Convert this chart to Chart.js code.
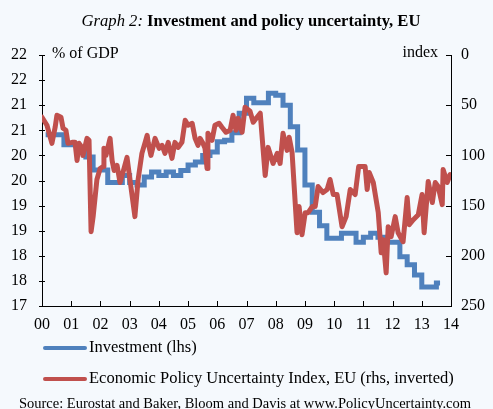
<!DOCTYPE html>
<html>
<head>
<meta charset="utf-8">
<script src="https://cdn.jsdelivr.net/npm/chart.js@4.4.0/dist/chart.umd.min.js"></script>
<style>
  html, body { margin: 0; padding: 0; background: #f5f9fd; }
  #wrap { position: relative; width: 493px; height: 409px; }
</style>
</head>
<body>
<div id="wrap"><canvas id="chart" width="493" height="409"></canvas></div>
<script>
// Investment, % of GDP (lhs), quarterly from 2000Q1
const investStartYear = 2000;
const investment = [
  20.41, 20.41, 20.41, 20.21,
  20.21, 20.10, 19.97, 19.71,
  19.71, 19.46, 19.46, 19.60,
  19.46, 19.41, 19.57, 19.67,
  19.60, 19.67, 19.60, 19.70,
  19.81, 19.87, 20.00, 20.07,
  20.27, 20.30, 20.45, 20.84,
  21.14, 21.05, 21.05, 21.24,
  21.20, 21.00, 20.57, 20.11,
  19.41, 18.87, 18.60, 18.35,
  18.35, 18.45, 18.45, 18.27,
  18.37, 18.45, 18.37, 18.27,
  18.27, 17.98, 17.82, 17.62,
  17.38, 17.38, 17.46
];

// Economic Policy Uncertainty Index, EU (rhs, inverted)
const epuDates = [
  2000.00, 2000.17, 2000.34, 2000.45, 2000.51, 2000.65, 2000.72, 2000.82, 2000.89,
  2001.03, 2001.13, 2001.20, 2001.27, 2001.37, 2001.40, 2001.54, 2001.61, 2001.68, 2001.75, 2001.88,
  2001.99, 2002.09, 2002.12, 2002.19, 2002.33, 2002.40, 2002.47, 2002.57, 2002.67, 2002.77, 2002.91,
  2003.01, 2003.18, 2003.29, 2003.42, 2003.53, 2003.60, 2003.64, 2003.73, 2003.87,
  2004.01, 2004.11, 2004.21, 2004.32, 2004.45, 2004.55, 2004.66, 2004.79, 2004.90,
  2005.00, 2005.14, 2005.24, 2005.34, 2005.41, 2005.51, 2005.58, 2005.65, 2005.68, 2005.82, 2005.92,
  2006.06, 2006.16, 2006.30, 2006.44, 2006.54, 2006.64, 2006.71, 2006.85, 2006.95,
  2007.12, 2007.23, 2007.36, 2007.47, 2007.64, 2007.74, 2007.91,
  2008.05, 2008.15, 2008.25, 2008.39, 2008.46, 2008.56, 2008.73, 2008.80, 2008.90,
  2009.01, 2009.11, 2009.25, 2009.35, 2009.45, 2009.62, 2009.76, 2009.86, 2009.97,
  2010.10, 2010.27, 2010.41, 2010.55, 2010.72, 2010.84, 2010.96,
  2011.06, 2011.13, 2011.20, 2011.34, 2011.51, 2011.61, 2011.68, 2011.78, 2011.85, 2011.95,
  2012.09, 2012.19, 2012.36, 2012.50, 2012.57, 2012.71, 2012.88,
  2013.01, 2013.08, 2013.22, 2013.36, 2013.46, 2013.56, 2013.70, 2013.73, 2013.87, 2013.97
];
const epuIndex = [
  62, 70, 88, 72, 60, 62, 73, 75, 88,
  87, 87, 105, 88, 92, 100, 83, 85, 176, 161, 124,
  113, 111, 93, 100, 83, 105, 115, 110, 127, 117, 102,
  124, 161, 124, 98, 87, 80, 88, 100, 83,
  93, 90, 98, 87, 103, 87, 92, 87, 65,
  70, 68, 83, 90, 83, 88, 93, 113, 78, 85, 70,
  68, 72, 77, 75, 60, 75, 63, 77, 52,
  56, 67, 62, 58, 120, 92, 108,
  98, 108, 78, 95, 82, 97, 177, 151, 179,
  157, 157, 151, 151, 131, 137, 134, 124, 139,
  139, 171, 161, 134, 139, 111, 111,
  111, 134, 117, 127, 157, 197, 184, 217, 171, 181,
  161, 177, 186, 142, 169, 164, 159,
  139, 177, 126, 147, 127, 131, 149, 114, 127, 119
];

const yearTicks = ['00', '01', '02', '03', '04', '05', '06', '07', '08', '09', '10', '11', '12', '13', '14'];

const BLUE = '#4f81bd';
const RED = '#c0504d';
const SERIF = '"Liberation Serif", "Times New Roman", serif';

const investPoints = investment.map((v, i) => ({ x: investStartYear + i * 0.25 + 0.125, y: v }));
const epuPoints = epuDates.map((d, i) => ({ x: d, y: epuIndex[i] }));

// title, axis captions, legend, source and the small tick marks
const decorPlugin = {
  id: 'decor',
  beforeDraw(chart) {
    const ctx = chart.ctx;
    ctx.save();
    ctx.fillStyle = '#f5f9fd';
    ctx.fillRect(0, 0, chart.width, chart.height);
    ctx.restore();
  },
  afterDraw(chart) {
    const ctx = chart.ctx;
    const a = chart.chartArea;
    const xs = chart.scales.x, yl = chart.scales.y, yr = chart.scales.y2;
    ctx.save();
    ctx.strokeStyle = '#000';
    ctx.lineWidth = 1;
    ctx.beginPath();
    xs.ticks.forEach(t => {
      const px = Math.round(xs.getPixelForValue(t.value)) + 0.5;
      ctx.moveTo(px, a.bottom); ctx.lineTo(px, a.bottom - 5);
    });
    yl.ticks.forEach(t => {
      const py = Math.round(yl.getPixelForValue(t.value)) + 0.5;
      ctx.moveTo(a.left - 3, py); ctx.lineTo(a.left + 3, py);
    });
    yr.ticks.forEach(t => {
      const py = Math.round(yr.getPixelForValue(t.value)) + 0.5;
      ctx.moveTo(a.right, py); ctx.lineTo(a.right - 5, py);
    });
    ctx.stroke();

    ctx.fillStyle = '#000';
    ctx.textBaseline = 'alphabetic';
    // title: italic lead-in + bold text
    const part1 = 'Graph 2:';
    const part2 = ' Investment and policy uncertainty, EU';
    ctx.font = 'italic 16.6px ' + SERIF;
    const w1 = ctx.measureText(part1).width;
    ctx.font = 'bold 16.6px ' + SERIF;
    const w2 = ctx.measureText(part2).width;
    let tx = 251 - (w1 + w2) / 2;
    ctx.font = 'italic 16.6px ' + SERIF;
    ctx.fillText(part1, tx, 26);
    ctx.font = 'bold 16.6px ' + SERIF;
    ctx.fillText(part2, tx + w1, 26);

    ctx.font = '16px ' + SERIF;
    ctx.textBaseline = 'middle';
    ctx.textAlign = 'left';
    ctx.fillText('% of GDP', 52, 54);
    ctx.textAlign = 'right';
    ctx.fillText('index', 438, 53);

    // legend
    ctx.font = '16.5px ' + SERIF;
    ctx.textAlign = 'left';
    const rows = [348, 379];
    chart.data.datasets.forEach((ds, i) => {
      const y = rows[i];
      ctx.strokeStyle = ds.borderColor;
      ctx.lineWidth = 4;
      ctx.lineCap = 'round';
      ctx.beginPath();
      ctx.moveTo(45, y); ctx.lineTo(85, y);
      ctx.stroke();
      ctx.fillText(ds.label, 89, y);
    });

    ctx.font = '14.5px ' + SERIF;
    ctx.textAlign = 'center';
    ctx.textBaseline = 'alphabetic';
    ctx.fillText('Source: Eurostat and Baker, Bloom and Davis at www.PolicyUncertainty.com', 245, 408);
    ctx.restore();
  }
};

const ctx = document.getElementById('chart').getContext('2d');
new Chart(ctx, {
  type: 'line',
  data: {
    datasets: [
      {
        label: 'Investment (lhs)',
        data: investPoints,
        yAxisID: 'y',
        borderColor: BLUE,
        backgroundColor: BLUE,
        borderWidth: 5,
        pointRadius: 0,
        stepped: 'middle',
        order: 2
      },
      {
        label: 'Economic Policy Uncertainty Index, EU (rhs, inverted)',
        data: epuPoints,
        yAxisID: 'y2',
        borderColor: RED,
        backgroundColor: RED,
        borderWidth: 5,
        pointRadius: 0,
        borderJoinStyle: 'round',
        borderCapStyle: 'round',
        tension: 0,
        order: 1
      }
    ]
  },
  options: {
    responsive: false,
    animation: false,
    events: [],
    layout: { padding: { top: 55, bottom: 0, left: 0, right: 0 } },
    plugins: {
      legend: { display: false },
      tooltip: { enabled: false }
    },
    scales: {
      x: {
        type: 'linear',
        min: 2000,
        max: 2014,
        grid: { display: false, drawTicks: false },
        border: { display: true, color: '#000', width: 1 },
        ticks: {
          stepSize: 1,
          autoSkip: false,
          maxRotation: 0,
          padding: 9,
          color: '#000',
          font: { family: SERIF, size: 16 },
          callback: v => yearTicks[v - 2000]
        },
        afterFit: s => { s.height = 103; }
      },
      y: {
        position: 'left',
        min: 17,
        max: 22,
        grid: { display: false, drawTicks: false },
        border: { display: true, color: '#000', width: 1 },
        ticks: {
          stepSize: 0.5,
          padding: 15,
          color: '#000',
          font: { family: SERIF, size: 16 },
          callback: v => String(Math.round(v))
        },
        afterFit: s => { s.width = 42; }
      },
      y2: {
        position: 'right',
        min: 0,
        max: 250,
        reverse: true,
        grid: { display: false, drawTicks: false },
        border: { display: true, color: '#000', width: 1 },
        ticks: {
          stepSize: 50,
          padding: 10,
          color: '#000',
          font: { family: SERIF, size: 16 }
        },
        afterFit: s => { s.width = 42; }
      }
    }
  },
  plugins: [decorPlugin]
});
</script>
</body>
</html>
